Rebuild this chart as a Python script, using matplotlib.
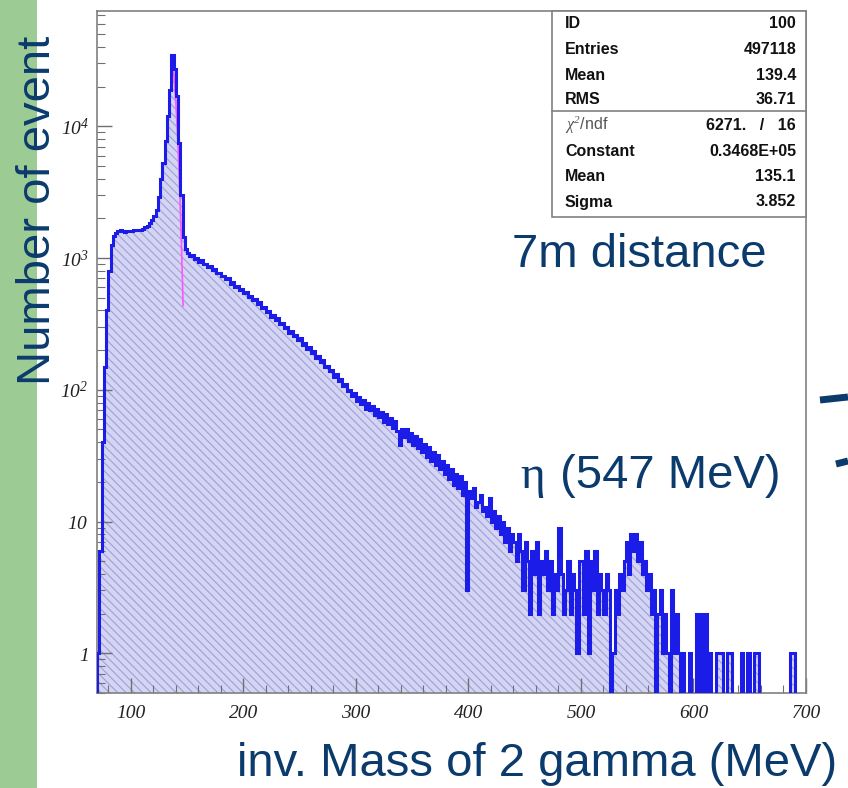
import numpy as np
import matplotlib
matplotlib.use("Agg")
import matplotlib.pyplot as plt
from matplotlib.patches import Rectangle
from matplotlib.lines import Line2D
from matplotlib.ticker import FixedLocator, MultipleLocator, LogLocator, NullFormatter

plt.rcParams['mathtext.fontset'] = 'custom'
plt.rcParams['mathtext.rm'] = 'Liberation Serif:italic'
plt.rcParams['mathtext.it'] = 'Liberation Serif:italic'
plt.rcParams['hatch.linewidth'] = 0.8

# inv. mass histogram, 2 MeV bins from 70 MeV, counts
bin_start = 70
bin_width = 2

counts_070 = [1, 6, 40, 150, 400, 800, 1250, 1480, 1560, 1600,
              1620, 1610, 1590, 1600, 1610, 1600, 1620, 1630, 1620, 1640,
              1670, 1710, 1760, 1830, 1930, 2070, 2300, 2900, 4000, 5300,
              7800, 12000, 19000, 35000, 27000, 17000, 7500, 3000, 1450, 1170]
counts_150 = [1100, 1040, 1060, 990, 1000, 940, 965, 905, 900, 850,
              870, 810, 830, 770, 775, 730, 735, 690, 705, 640,
              655, 605, 615, 575, 585]
counts_200 = [545, 552, 505, 518, 478, 490, 448, 462, 415, 428,
              388, 398, 360, 370, 338, 350, 316, 320, 292, 300,
              272, 280, 255, 262, 238, 246, 220, 226, 205, 212,
              190, 198, 175, 180, 162, 168, 150, 152, 138, 142,
              125, 132, 116, 120, 106, 110, 98, 100, 90, 95]
counts_300 = [82, 88, 78, 84, 72, 80, 70, 76, 64, 72,
              62, 68, 57, 66, 55, 61, 51, 58, 49, 38,
              50, 44, 50, 41, 47, 38, 45, 36, 42, 34,
              39, 31, 37, 29, 34, 27, 32, 25, 29, 23,
              27, 21, 25, 19, 23, 18, 22, 16, 20, 3]
counts_400 = [17, 15, 18, 13, 14, 16, 12, 13, 11, 15,
              10, 12, 9, 11, 8, 10, 7, 9, 6, 8,
              7, 5, 8, 6, 3, 7, 5, 2, 6, 4,
              7, 2, 5, 4, 6, 3, 5, 2, 4, 3,
              9, 4, 2, 3, 5, 2, 4, 3, 1, 5]
counts_500 = [5, 2, 6, 1, 5, 3, 6, 2, 4, 3,
              2, 4, 3, 0, 1, 3, 2, 4, 3, 5,
              7, 4, 8, 6, 8, 5, 7, 4, 5, 3,
              4, 2, 3, 0, 2, 3, 1, 2, 1, 0,
              3, 1, 2, 1, 0, 1, 0, 0, 1, 0]
counts_600 = [0, 2, 0, 2, 0, 2, 0, 1, 0, 0,
              1, 1, 1, 0, 0, 1, 1, 0, 0, 0,
              0, 1, 0, 0, 1, 0, 0, 1, 1, 0,
              0, 0, 0, 0, 0, 0, 0, 0, 0, 0,
              0, 0, 0, 1, 1, 0, 0, 0, 0, 0]

# gaussian fit (stats box values); only its falling side shows
fit_const = 34680
fit_mean = 135.1
fit_sigma = 3.852
fit_range = (136.5, 146.5)

stat_labels = ['ID', 'Entries', 'Mean', 'RMS', r'$\chi^2$/ndf',
               'Constant', 'Mean', 'Sigma']
stat_values = ['100', '497118', '139.4', '36.71', '6271.   /   16',
               '0.3468E+05', '135.1', '3.852']

x_ticks = [100, 200, 300, 400, 500, 600, 700]
y_ticks = [1, 10, 100, 1000, 10000]
y_ticklabels = [r'$1$', r'$10$', r'$10^{2}$', r'$10^{3}$', r'$10^{4}$']

counts = np.array(counts_070 + counts_150 + counts_200 + counts_300
                  + counts_400 + counts_500 + counts_600, dtype=float)
edges = bin_start + bin_width * np.arange(len(counts) + 1)
draw_counts = np.where(counts > 0, counts, 0.1)

W, H = 848, 788
navy = '#0b3a6d'

def fx(px):
    return px / W

def fy(py):
    return 1 - py / H

fig = plt.figure(figsize=(W / 100, H / 100), dpi=100)
fig.patches.append(Rectangle((0, 0), fx(37), 1, transform=fig.transFigure,
                             facecolor='#9dcb94', edgecolor='none', zorder=0))

ax = fig.add_axes([fx(97), fy(693), fx(806) - fx(97), fy(11) - fy(693)])
ax.set_yscale('log')
ax.set_xlim(70, 700)
ax.set_ylim(0.5, 7.5e4)

ax.stairs(draw_counts, edges, baseline=0.1, fill=True, facecolor='#d4d4f5',
          edgecolor='#a0a0d4', hatch='\\\\\\\\', linewidth=0, zorder=1)
xf = np.linspace(fit_range[0], fit_range[1], 100)
ax.plot(xf, fit_const * np.exp(-0.5 * ((xf - fit_mean) / fit_sigma) ** 2),
        color='#ff55ff', lw=1.2, zorder=2)
ax.stairs(draw_counts, edges, baseline=0.1, color='#1c1ce8', linewidth=2.2,
          zorder=3)

for s in ax.spines.values():
    s.set_color('#808080')
    s.set_linewidth(1.2)

ax.xaxis.set_major_locator(FixedLocator(x_ticks))
ax.xaxis.set_minor_locator(MultipleLocator(20))
ax.set_xticks(x_ticks, labels=[str(t) for t in x_ticks])
ax.set_yticks(y_ticks, labels=y_ticklabels)
ax.yaxis.set_minor_locator(LogLocator(base=10, subs=range(2, 10), numticks=20))
ax.yaxis.set_minor_formatter(NullFormatter())
ax.tick_params(which='both', direction='in', top=False, right=False,
               color='#707070', labelcolor='#222222', labelsize=14)
ax.tick_params(which='major', length=11, width=1.0)
ax.tick_params(which='minor', length=6, width=0.8)
ax.tick_params(axis='x', pad=9)
ax.tick_params(axis='y', pad=6)
for lbl in ax.get_xticklabels():
    lbl.set_family('Liberation Serif')
    lbl.set_style('italic')

# stats box
box = Rectangle((fx(552), fy(217)), fx(806) - fx(552), fy(11) - fy(217),
                transform=fig.transFigure, facecolor='white',
                edgecolor='#808080', linewidth=1.2, zorder=5)
fig.patches.append(box)
fig.lines.append(Line2D([fx(552), fx(806)], [fy(111), fy(111)],
                        transform=fig.transFigure, color='#808080', lw=1.2,
                        zorder=6))
row_y = [24, 49.5, 75, 100, 125.5, 151, 176.5, 202]
for lab, val, yy in zip(stat_labels, stat_values, row_y):
    thin = 'chi' in lab
    fig.text(fx(565), fy(yy), lab, fontsize=11.5,
             fontweight='normal' if thin else 'bold',
             family='Liberation Sans', color='#555555' if thin else '#111111',
             ha='left', va='center', zorder=7)
    fig.text(fx(796), fy(yy), val, fontsize=11.5, fontweight='bold',
             family='Liberation Sans', color='#111111', ha='right',
             va='center', zorder=7)

# annotations
fig.text(fx(50), fy(210), 'Number of event', rotation=90,
         rotation_mode='anchor', ha='center', va='baseline', fontsize=34,
         family='Liberation Sans', color=navy)
fig.text(fx(237), fy(776), 'inv. Mass of 2 gamma (MeV)', fontsize=34,
         family='Liberation Sans', color=navy, ha='left', va='baseline')
fig.text(fx(512), fy(267), '7m distance', fontsize=34,
         family='Liberation Sans', color=navy, ha='left', va='baseline')
fig.text(fx(520), fy(488), 'η', fontsize=34, family='Liberation Serif',
         color=navy, ha='left', va='baseline')
fig.text(fx(547), fy(488), ' (547 MeV)', fontsize=34,
         family='Liberation Sans', color=navy, ha='left', va='baseline')

for (x0, y0), (x1, y1) in [((820, 400), (848, 397)), ((836, 464), (848, 461))]:
    fig.lines.append(Line2D([fx(x0), fx(x1)], [fy(y0), fy(y1)],
                            transform=fig.transFigure, color=navy, lw=5,
                            solid_capstyle='butt'))

fig.savefig('out.png', dpi=100)
